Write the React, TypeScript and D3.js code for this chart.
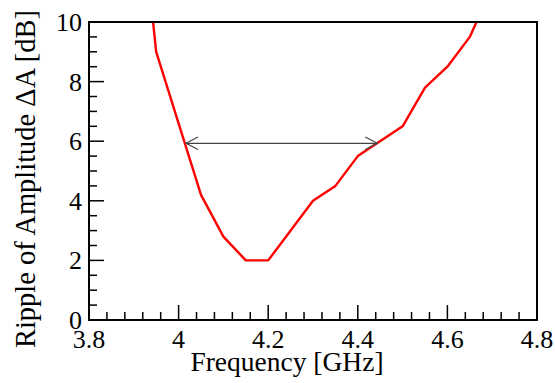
import React from "react";
import * as d3 from "d3";

const freq = [3.943, 3.95, 4.05, 4.1, 4.15, 4.2, 4.3, 4.35, 4.4, 4.5, 4.55, 4.6, 4.65, 4.665];
const ripple = [10, 9, 4.2, 2.8, 2, 2, 4, 4.5, 5.5, 6.5, 7.8, 8.5, 9.5, 10];
const xTicks = [3.8, 4, 4.2, 4.4, 4.6, 4.8];
const yTicks = [0, 2, 4, 6, 8, 10];
const arrowLevel = [5.93];
const arrowRange = [4.0165, 4.4435];

const W = 555, H = 383;
const L = 89, R = 537, T = 22, B = 320;
const FONT = "Liberation Serif";

export default function App() {
  const x = d3.scaleLinear().domain([3.8, 4.8]).range([L, R]);
  const y = d3.scaleLinear().domain([0, 10]).range([B, T]);
  const line = d3.line<number>().x((_, i) => x(freq[i])).y((d) => y(d));
  const xMinor = d3.range(3.8, 4.8001, 0.04).filter((v) => !xTicks.some((t) => Math.abs(t - v) < 1e-6));
  const yMinor = d3.range(0, 10.001, 0.5).filter((v) => !yTicks.some((t) => Math.abs(t - v) < 1e-6));
  const ay = y(arrowLevel[0]);
  const ax1 = x(arrowRange[0]);
  const ax2 = x(arrowRange[1]);
  const ts = { fontFamily: FONT };
  return (
    <svg width={W} height={H} style={{ position: "absolute", left: 0, top: 0 }}>
      <rect width={W} height={H} fill="white" />
      <path d={line(ripple) || ""} fill="none" stroke="#ff0000" strokeWidth={2.4} strokeLinejoin="round" />
      <g stroke="#444" strokeWidth={1.2} fill="none">
        <line x1={ax1} y1={ay} x2={ax2} y2={ay} />
        <polyline points={`${ax1 + 12},${ay - 6.3} ${ax1},${ay} ${ax1 + 12},${ay + 6.3}`} />
        <polyline points={`${ax2 - 12},${ay - 6.3} ${ax2},${ay} ${ax2 - 12},${ay + 6.3}`} />
      </g>
      <rect x={L} y={T} width={R - L} height={B - T} fill="none" stroke="#000" strokeWidth={2} />
      <g stroke="#000" strokeWidth={1.5}>
        {xTicks.map((t) => (
          <line key={"xm" + t} x1={x(t)} x2={x(t)} y1={B} y2={B - 15} />
        ))}
        {xMinor.map((t) => (
          <line key={"xn" + t} x1={x(t)} x2={x(t)} y1={B} y2={B - 8} />
        ))}
        {yTicks.map((t) => (
          <line key={"ym" + t} x1={L} x2={L + 15} y1={y(t)} y2={y(t)} />
        ))}
        {yMinor.map((t) => (
          <line key={"yn" + t} x1={L} x2={L + 8} y1={y(t)} y2={y(t)} />
        ))}
      </g>
      <g fontSize={26} fill="#000">
        {xTicks.map((t) => (
          <text key={"xl" + t} x={x(t)} y={348} textAnchor="middle" style={ts}>
            {d3.format("~g")(t)}
          </text>
        ))}
        {yTicks.map((t) => (
          <text key={"yl" + t} x={82} y={y(t) + 9} textAnchor="end" style={ts}>
            {t}
          </text>
        ))}
      </g>
      <text x={287} y={371} textAnchor="middle" fontSize={27.5} fill="#000" style={ts}>
        Frequency [GHz]
      </text>
      <text transform={`translate(35,179) rotate(-90)`} textAnchor="middle" fontSize={28.5} fill="#000" style={ts}>
        Ripple of Amplitude ΔA [dB]
      </text>
    </svg>
  );
}
